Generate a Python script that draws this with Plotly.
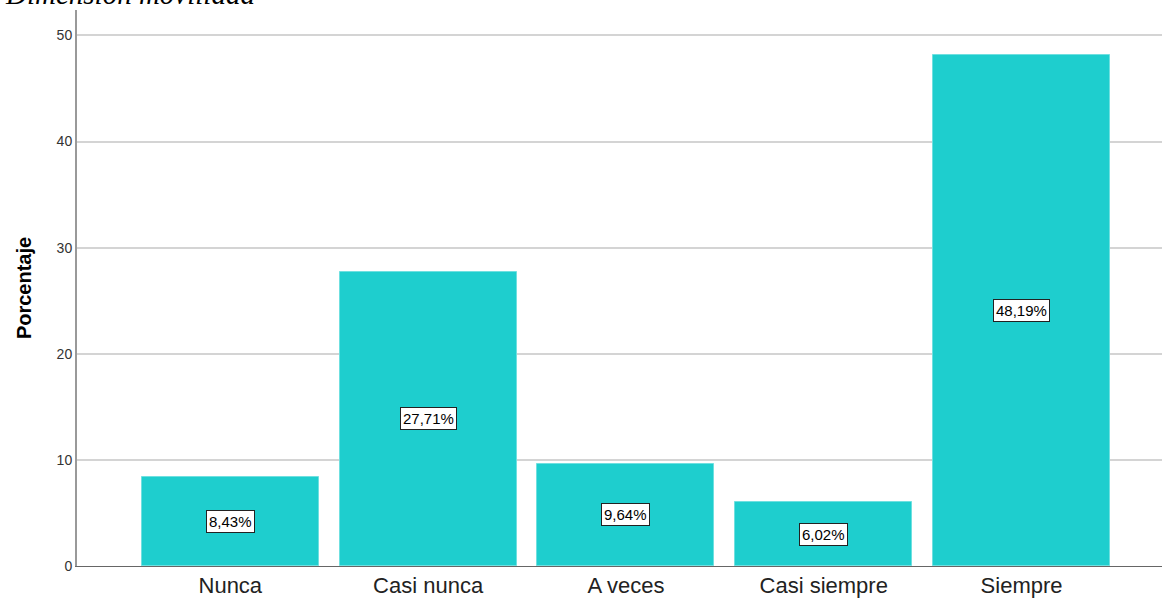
import plotly.graph_objects as go

# Frequency table: Dimensión movilidad
categorias = ["Nunca", "Casi nunca", "A veces", "Casi siempre", "Siempre"]
porcentajes = [8.43, 27.71, 9.64, 6.02, 48.19]
ticks_y = [0, 10, 20, 30, 40, 50]

BAR_COLOR = "#1ecece"

fig = go.Figure()
fig.add_trace(go.Bar(
    x=list(range(len(categorias))),
    y=porcentajes,
    width=0.895,
    marker=dict(color=BAR_COLOR, line=dict(color="#6fe0e0", width=1)),
    hoverinfo="skip",
))

# Percentage labels boxed in the middle of each bar
for i, v in enumerate(porcentajes):
    fig.add_annotation(
        x=i, y=v / 2, xref="x", yref="y",
        text=f"{v:.2f}%".replace(".", ","),
        showarrow=False,
        font=dict(family="Arial, Liberation Sans", size=15, color="#000"),
        bgcolor="white", bordercolor="#222", borderwidth=1, borderpad=2,
    )

# Chart caption, partly clipped at the top of the page
fig.add_annotation(
    x=(257 - 77) / 1085, y=0.996, xref="paper", yref="paper",
    xanchor="right", yanchor="bottom",
    text="<i>Dimensión movilidad</i>",
    showarrow=False,
    font=dict(family="Liberation Serif, Times New Roman", size=29, color="#000"),
)

fig.update_layout(
    width=1162, height=599,
    margin=dict(l=77, r=0, t=10, b=33),
    paper_bgcolor="white", plot_bgcolor="white",
    showlegend=False,
    bargap=0,
    xaxis=dict(
        range=[-0.775, 4.71],
        tickmode="array",
        tickvals=list(range(len(categorias))),
        ticktext=categorias,
        tickfont=dict(family="Arial, Liberation Sans", size=22, color="#222"),
        showgrid=False, zeroline=False,
        showline=True, linecolor="#666", linewidth=1,
        ticks="", ticklen=0,
    ),
    yaxis=dict(
        range=[0, 52.4],
        tickmode="array",
        tickvals=ticks_y,
        tickfont=dict(family="Arial, Liberation Sans", size=14, color="#333"),
        showgrid=True, gridcolor="#d4d4d4", gridwidth=2,
        zeroline=False,
        showline=True, linecolor="#999", linewidth=2,
        ticks="", ticklen=0,
        title=dict(text="<b>Porcentaje</b>",
                   font=dict(family="Arial, Liberation Sans", size=20, color="#000"),
                   standoff=20),
    ),
)

fig.write_html("out.html")
